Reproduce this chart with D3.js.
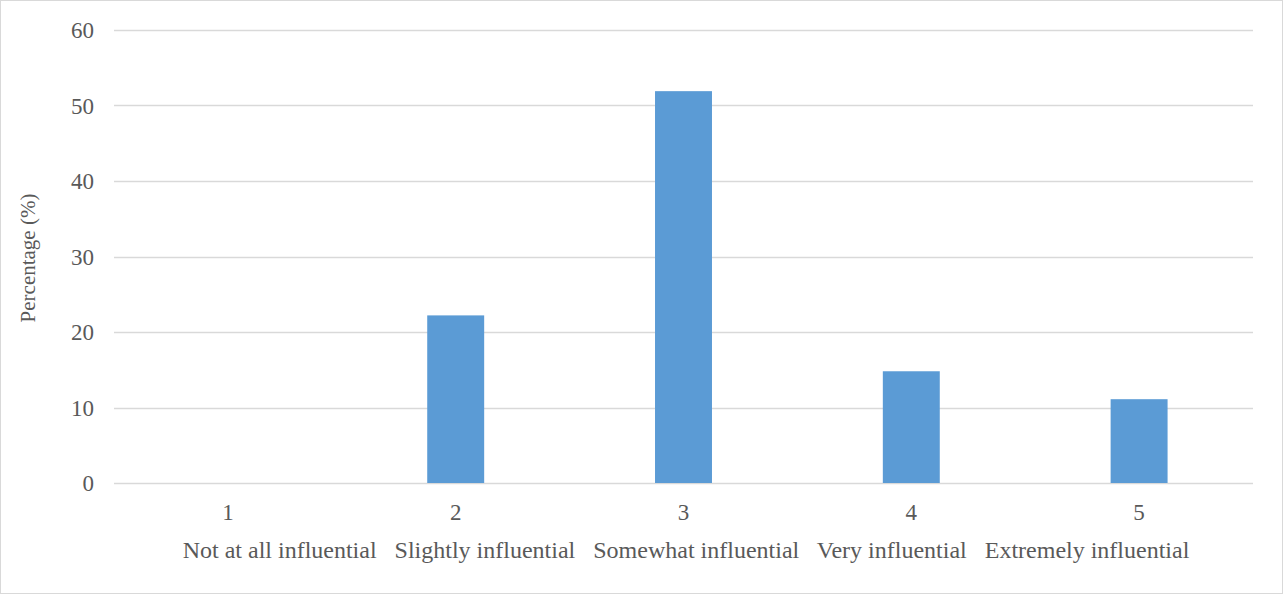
<!DOCTYPE html>
<html><head><meta charset="utf-8">
<script src="https://cdn.jsdelivr.net/npm/d3@7"></script>
<style>
html,body{margin:0;padding:0;background:#fff;}
</style></head>
<body>
<svg id="chart" width="1283" height="594"></svg>
<script>
const categories = ["1","2","3","4","5"];
const values = [0, 22.2, 51.9, 14.8, 11.1];
const yTicks = [0,10,20,30,40,50,60];
const xTitle = "Not at all influential   Slightly influential   Somewhat influential   Very influential   Extremely influential";
const yTitle = "Percentage (%)";

const FONT = "'Liberation Serif', 'Times New Roman', serif";
const svg = d3.select("#chart");
const W = 1283, H = 594;
svg.append("rect").attr("x",0.5).attr("y",0.5).attr("width",W-1).attr("height",H-1)
  .attr("fill","#fff").attr("stroke","#d9d9d9");

const m = {left:114, right:1253, top:30, bottom:483};
const x = d3.scaleBand().domain(categories).range([m.left, m.right]).paddingInner(0).paddingOuter(0);
const y = d3.scaleLinear().domain([0,60]).range([m.bottom, m.top]);

// gridlines
svg.append("g").selectAll("line").data(yTicks).join("line")
  .attr("x1",m.left).attr("x2",m.right)
  .attr("y1",d=>Math.round(y(d))+0.5).attr("y2",d=>Math.round(y(d))+0.5)
  .attr("stroke","#d9d9d9").attr("stroke-width",1.3);

const T = (sel, size) => sel.style("font-family",FONT).style("fill","#595959").style("font-size",(size||24)+"px");

// y labels
svg.append("g").selectAll("text").data(yTicks).join("text")
  .attr("x",94).attr("y",d=>y(d)).attr("dy","0.35em")
  .attr("text-anchor","end").call(T,23).text(d=>d);

// bars
const bw = x.bandwidth()*0.25;
svg.append("g").selectAll("rect").data(values).join("rect")
  .attr("x",(d,i)=>x(categories[i])+x.bandwidth()/2-bw/2)
  .attr("width",bw)
  .attr("y",d=>y(d)).attr("height",d=>y(0)-y(d))
  .attr("fill","#5b9bd5");

// x labels
svg.append("g").selectAll("text").data(categories).join("text")
  .attr("x",d=>x(d)+x.bandwidth()/2).attr("y",520)
  .attr("text-anchor","middle").call(T,23).text(d=>d);

svg.append("text").attr("x",686).attr("y",558)
  .attr("text-anchor","middle").call(T,24)
  .style("white-space","pre").attr("xml:space","preserve").text(xTitle);

svg.append("text").attr("transform","translate(35,"+(258)+") rotate(-90)")
  .attr("text-anchor","middle").call(T,21).text(yTitle);
</script>
</body></html>
